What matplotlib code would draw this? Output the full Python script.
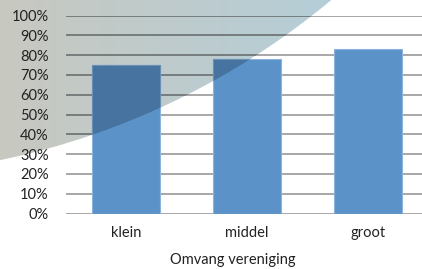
import numpy as np
import matplotlib
matplotlib.use("Agg")
import matplotlib.pyplot as plt
from matplotlib.patches import Circle

# data
categories = ['klein', 'middel', 'groot']
values = [0.75, 0.78, 0.83]
yticks = [0, 0.1, 0.2, 0.3, 0.4, 0.5, 0.6, 0.7, 0.8, 0.9, 1.0]
xlabel = 'Omvang vereniging'

plt.rcParams['font.family'] = ['Lato', 'DejaVu Sans']

W, H = 422, 269
fig = plt.figure(figsize=(W / 100, H / 100), dpi=100)

# decorative shaded circle in the background (pixel coordinates)
bg = fig.add_axes([0, 0, 1, 1], zorder=0)
bg.set_xlim(0, W)
bg.set_ylim(H, 0)
bg.axis('off')
c_left = np.array([200, 200, 192]) / 255
c_right = np.array([180, 206, 216]) / 255
t = np.linspace(0, 1, 200)[None, :, None]
img = np.repeat(c_left * (1 - t) + c_right * t, 2, axis=0)
circle = Circle((-154, -581), 757, transform=bg.transData, facecolor='none', edgecolor='none')
im = bg.imshow(img, extent=[0, 340, H, 0], aspect='auto')
im.set_clip_path(circle)

# main chart
ax = fig.add_axes([65.5 / W, 55.5 / H, 363 / W, 198 / H], zorder=1)
ax.patch.set_alpha(0)
x = np.arange(len(categories))
width = 0.56

ax.set_ylim(0, 1)
ax.set_xlim(-0.5, 2.5)
for y in yticks:
    ax.axhline(y, color='#8f8f8f', lw=1.1, zorder=1)
    dark = ax.axhline(y, color='#6c7576', lw=1.1, zorder=1.5)
    dark.set_clip_path(circle)

ax.bar(x, values, width, color='#5b93c9', edgecolor='#8db3dc', linewidth=0.8, zorder=2)
shade = ax.bar(x, values, width, color='#46739f', edgecolor='#6a8fb4', linewidth=0.8, zorder=3)
for p in shade:
    p.set_clip_path(circle)

ax.set_yticks(yticks)
ax.set_yticklabels(['%d%%' % round(v * 100) for v in yticks])
ax.set_xticks(x)
ax.set_xticklabels(categories)
ax.tick_params(axis='y', length=0, pad=12, labelsize=10.5, colors='#222222')
ax.tick_params(axis='x', length=0, pad=9, labelsize=10.5, colors='#222222')
for s in ax.spines.values():
    s.set_visible(False)

fig.text(233 / W, 1 - 260 / H, xlabel, ha='center', va='center', fontsize=10.5, color='#222222')

fig.savefig('out.png', dpi=100)
